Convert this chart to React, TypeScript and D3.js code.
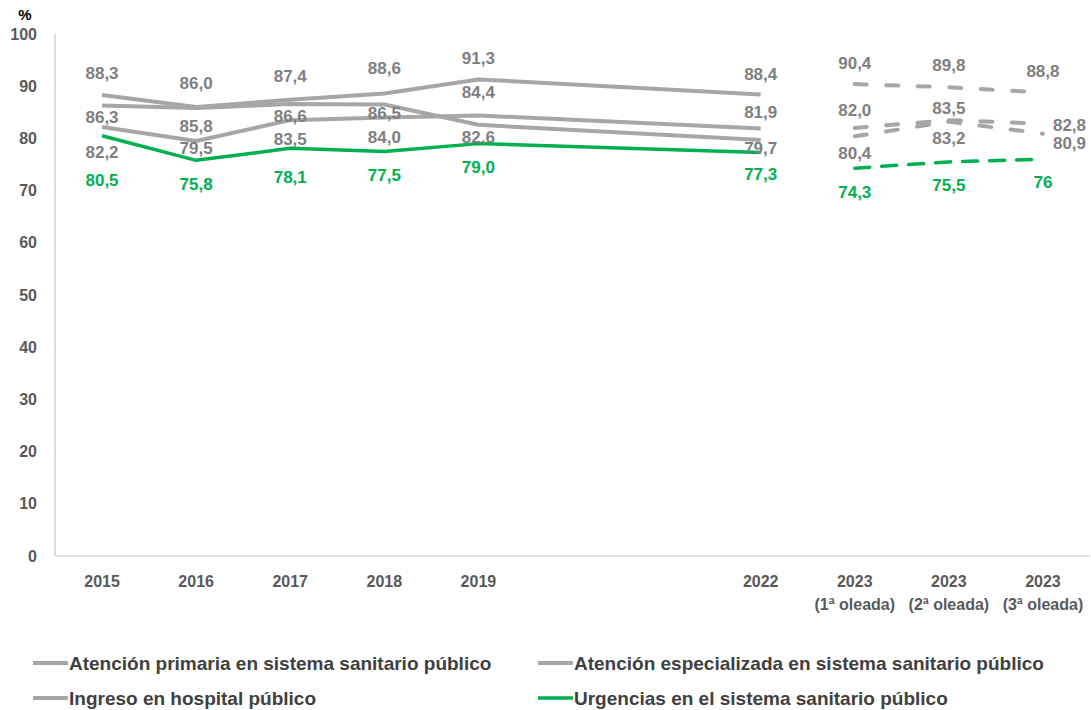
import { useEffect, useRef } from "react"
import * as d3 from "d3"

// categories (2020 and 2021 are empty slots on the axis)
const categories = [
  "2015", "2016", "2017", "2018", "2019", "2020", "2021", "2022",
  "2023 (1ª oleada)", "2023 (2ª oleada)", "2023 (3ª oleada)",
]
const tickLabels = [
  ["2015"], ["2016"], ["2017"], ["2018"], ["2019"], [], [], ["2022"],
  ["2023", "(1ª oleada)"], ["2023", "(2ª oleada)"], ["2023", "(3ª oleada)"],
]
const yTicks = [0, 10, 20, 30, 40, 50, 60, 70, 80, 90, 100]
const waveStart = 8 // 2023 waves are drawn dashed

const primaria = [86.3, 85.8, 86.6, 86.5, 82.6, null, null, 79.7, 80.4, 83.2, 80.9]
const especializada = [82.2, 79.5, 83.5, 84.0, 84.4, null, null, 81.9, 82.0, 83.5, 82.8]
const ingreso = [88.3, 86.0, 87.4, 88.6, 91.3, null, null, 88.4, 90.4, 89.8, 88.8]
const urgencias = [80.5, 75.8, 78.1, 77.5, 79.0, null, null, 77.3, 74.3, 75.5, 76]

// label shifts (px from the point, vertical) as placed in the original
const primariaLabelDy = [12, 18, 12, 9, 12, null, null, 8, 17, 16, 9]
const especializadaLabelDy = [25, 7, 19, 20, -23, null, null, -16, -18, -12, 1]
const ingresoLabelDy = [-22, -24, -24, -25, -21, null, null, -21, -21, -22, -21]
const urgenciasLabelDy = [44, 24, 29, 24, 23, null, null, 22, 24, 23, 23]

const GRAY = "#A6A6A6"
const GREEN = "#00B050"

const series = [
  { name: "Atención primaria en sistema sanitario público", values: primaria, dy: primariaLabelDy, color: GRAY, labelColor: "#7F7F7F", width: 4, rightLast: true },
  { name: "Atención especializada en sistema sanitario público", values: especializada, dy: especializadaLabelDy, color: GRAY, labelColor: "#7F7F7F", width: 4, rightLast: true },
  { name: "Ingreso en hospital público", values: ingreso, dy: ingresoLabelDy, color: GRAY, labelColor: "#7F7F7F", width: 4, rightLast: false },
  { name: "Urgencias en el sistema sanitario público", values: urgencias, dy: urgenciasLabelDy, color: GREEN, labelColor: GREEN, width: 3.5, rightLast: false },
]

const plainLabels = new Set(["Urgencias en el sistema sanitario público|2023 (3ª oleada)"])

const W = 1091
const H = 710
const FONT = "'Liberation Sans', Arial, sans-serif"

export default function App() {
  const svgRef = useRef<SVGSVGElement>(null)

  useEffect(() => {
    document.body.style.margin = "0"
    document.body.style.overflow = "hidden"
    if (!svgRef.current) return
    const svg = d3.select(svgRef.current)
    svg.selectAll("*").remove()

    const left = 55
    const right = 1090
    const top = 34
    const bottom = 556

    const x = d3.scalePoint<string>().domain(categories).range([left, right]).padding(0.5)
    const y = d3.scaleLinear().domain([0, 100]).range([bottom, top])

    // axes
    svg.append("line")
      .attr("x1", left).attr("x2", left).attr("y1", top).attr("y2", bottom)
      .attr("stroke", "#D0D0D0").attr("stroke-width", 1.5)
    svg.append("line")
      .attr("x1", left).attr("x2", right).attr("y1", bottom).attr("y2", bottom)
      .attr("stroke", "#D9D9D9").attr("stroke-width", 1.5)

    svg.append("text")
      .attr("x", 25).attr("y", 15).attr("dy", "0.35em")
      .attr("text-anchor", "middle")
      .attr("font-family", FONT).attr("font-weight", "bold").attr("font-size", 15)
      .attr("fill", "#000").text("%")

    svg.selectAll(".ytick")
      .data(yTicks)
      .enter()
      .append("text")
      .attr("class", "ytick")
      .attr("x", 37).attr("y", (d) => y(d)).attr("dy", "0.35em")
      .attr("text-anchor", "end")
      .attr("font-family", FONT).attr("font-weight", "bold").attr("font-size", 16)
      .attr("fill", "#595959")
      .text((d) => d)

    categories.forEach((c, i) => {
      tickLabels[i].forEach((t, k) => {
        svg.append("text")
          .attr("x", x(c)!).attr("y", 587 + k * 23)
          .attr("text-anchor", "middle")
          .attr("font-family", FONT).attr("font-weight", "bold").attr("font-size", 16)
          .attr("fill", "#595959")
          .text(t)
      })
    })

    const fmt = d3.format(".1f")
    type Pt = { i: number; v: number }
    const line = d3.line<Pt>().x((d) => x(categories[d.i])!).y((d) => y(d.v))

    series.forEach((s) => {
      const pts: Pt[] = s.values
        .map((v, i) => ({ i, v: v as number }))
        .filter((d) => s.values[d.i] !== null)
      const solid = pts.filter((d) => d.i < waveStart)
      const waves = pts.filter((d) => d.i >= waveStart)

      svg.append("path")
        .attr("d", line(solid)!)
        .attr("fill", "none").attr("stroke", s.color).attr("stroke-width", s.width)
        .attr("stroke-linejoin", "round")

      svg.append("path")
        .attr("d", line(waves)!)
        .attr("fill", "none").attr("stroke", s.color).attr("stroke-width", s.width)
        .attr("stroke-linecap", "round")
        .attr("stroke-dasharray", s.color === GREEN ? "15 12" : "12 19.5")
    })

    // data labels
    series.forEach((s) => {
      s.values.forEach((v, i) => {
        if (v === null) return
        const isRight = s.rightLast && i === categories.length - 1
        const key = `${s.name}|${categories[i]}`
        const txt = plainLabels.has(key) ? String(v) : fmt(v).replace(".", ",")
        svg.append("text")
          .attr("x", x(categories[i])! + (isRight ? 10 : 0))
          .attr("y", y(v) + (s.dy[i] as number))
          .attr("dy", "0.35em")
          .attr("text-anchor", isRight ? "start" : "middle")
          .attr("font-family", FONT).attr("font-weight", "bold").attr("font-size", 17)
          .attr("fill", s.labelColor)
          .text(txt)
      })
    })

    // legend
    const legendCols = [33, 538]
    const legendRows = [663, 698]
    series.forEach((s, k) => {
      const lx = legendCols[k % 2]
      const ly = legendRows[Math.floor(k / 2)]
      svg.append("line")
        .attr("x1", lx).attr("x2", lx + 35).attr("y1", ly).attr("y2", ly)
        .attr("stroke", s.color).attr("stroke-width", s.width)
      svg.append("text")
        .attr("x", lx + 36).attr("y", ly).attr("dy", "0.35em")
        .attr("font-family", FONT).attr("font-weight", "bold").attr("font-size", 19)
        .attr("fill", "#404040")
        .text(s.name)
    })
  }, [])

  return <svg ref={svgRef} width={W} height={H} style={{ display: "block" }} />
}
